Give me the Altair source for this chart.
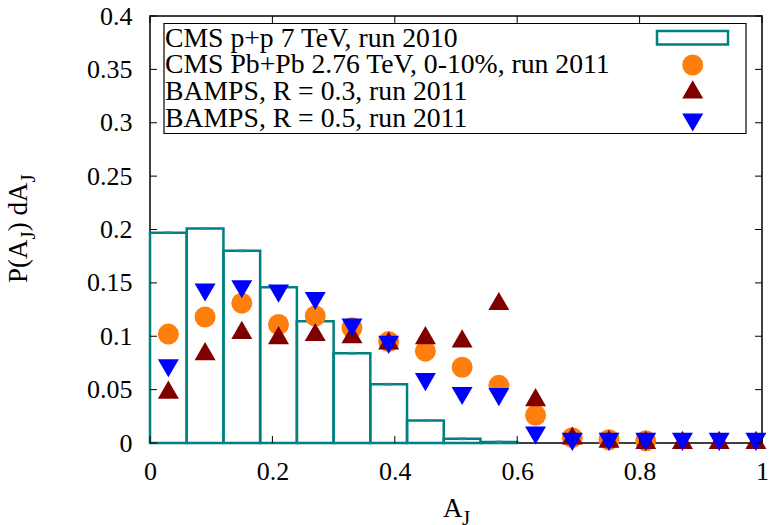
import altair as alt
import pandas as pd

# ---------------- data ----------------
bin_lo = [0.00, 0.06, 0.12, 0.18, 0.24, 0.30, 0.36, 0.42, 0.48, 0.54]
bin_hi = [0.06, 0.12, 0.18, 0.24, 0.30, 0.36, 0.42, 0.48, 0.54, 0.60]
bin_mid = [0.03, 0.09, 0.15, 0.21, 0.27, 0.33, 0.39, 0.45, 0.51, 0.57]
pp_hist = [0.197, 0.201, 0.180, 0.146, 0.114, 0.084, 0.055, 0.021, 0.004, 0.001]

x_pts = [0.03, 0.09, 0.15, 0.21, 0.27, 0.33, 0.39, 0.45, 0.51, 0.57,
         0.63, 0.69, 0.75, 0.81, 0.87, 0.93, 0.99]
cms_pbpb = [0.102, 0.118, 0.131, 0.111, 0.119, 0.108, 0.095, 0.086, 0.071,
            0.054, 0.026, 0.005, 0.003, 0.002]
bamps_r03 = [0.050, 0.086, 0.106, 0.101, 0.104, 0.102, 0.096, 0.101, 0.098,
             0.133, 0.043, 0.007, 0.004, 0.003, 0.003, 0.003, 0.003]
bamps_r05 = [0.070, 0.141, 0.144, 0.140, 0.133, 0.108, 0.092, 0.057, 0.044,
             0.043, 0.007, 0.001, 0.001, 0.001, 0.001, 0.001, 0.001]

legend_labels = ["CMS p+p 7 TeV, run 2010",
                 "CMS Pb+Pb 2.76 TeV, 0-10%, run 2011",
                 "BAMPS, R = 0.3, run 2011",
                 "BAMPS, R = 0.5, run 2011"]

x_ticks = [0, 0.2, 0.4, 0.6, 0.8, 1.0]
y_ticks = [0, 0.05, 0.1, 0.15, 0.2, 0.25, 0.3, 0.35, 0.4]

# ---------------- styling ----------------
W, H = 612, 427
FONT = "Liberation Serif"
TEAL = "#008080"
ORANGE = "#ff7f0e"
DRED = "#800000"
BLUE = "#0000ff"
MSIZE = 441

hist_df = pd.DataFrame({"lo": bin_lo, "hi": bin_hi, "mid": bin_mid, "v": pp_hist})
pb_df = pd.DataFrame({"x": x_pts[:len(cms_pbpb)], "v": cms_pbpb})
r3_df = pd.DataFrame({"x": x_pts, "v": bamps_r03})
r5_df = pd.DataFrame({"x": x_pts, "v": bamps_r05})
xt_df = pd.DataFrame({"t": x_ticks})
yt_df = pd.DataFrame({"t": y_ticks})
one = pd.DataFrame({"a": [0]})

xscale = alt.Scale(domain=[0, 1], nice=False, zero=False)
yscale = alt.Scale(domain=[0, 0.4], nice=False, zero=False)

xaxis = alt.Axis(values=x_ticks, format="~g", ticks=False, domain=False, grid=False,
                 labelFont=FONT, labelFontSize=26, labelColor="black",
                 labelPadding=15, title="", labelFlush=False)
yaxis = alt.Axis(values=y_ticks, format="~g", ticks=False, domain=False, grid=False,
                 labelFont=FONT, labelFontSize=26, labelColor="black",
                 labelPadding=18, title="", labelFlush=False)

hist = alt.Chart(hist_df).mark_bar(fill=TEAL, fillOpacity=0, stroke=TEAL,
                                   strokeWidth=2.5).encode(
    x=alt.X("lo:Q", scale=xscale, axis=xaxis),
    x2="hi:Q",
    y=alt.Y("v:Q", scale=yscale, axis=yaxis),
    y2=alt.datum(0),
)
# tiny error-bar caps at the bin centres
herr = alt.Chart(hist_df).mark_tick(orient="horizontal", size=7, thickness=3,
                                    color="#2a9090").encode(
    x=alt.X("mid:Q", scale=xscale), y=alt.Y("v:Q", scale=yscale))

pb = alt.Chart(pb_df).mark_point(shape="circle", filled=True, size=MSIZE,
                                 color=ORANGE, opacity=1).encode(
    x=alt.X("x:Q", scale=xscale), y=alt.Y("v:Q", scale=yscale))
r3 = alt.Chart(r3_df).mark_point(shape="triangle-up", filled=True, size=MSIZE,
                                 color=DRED, opacity=1).encode(
    x=alt.X("x:Q", scale=xscale), y=alt.Y("v:Q", scale=yscale))
r5 = alt.Chart(r5_df).mark_point(shape="triangle-down", filled=True, size=MSIZE,
                                 color=BLUE, opacity=1).encode(
    x=alt.X("x:Q", scale=xscale), y=alt.Y("v:Q", scale=yscale))

# inward ticks (gnuplot style) on all four sides
tb = alt.Chart(xt_df).mark_rule(color="black", strokeWidth=1).encode(
    x=alt.X("t:Q", scale=xscale), y=alt.value(H), y2=alt.value(H - 7))
tt = alt.Chart(xt_df).mark_rule(color="black", strokeWidth=1).encode(
    x=alt.X("t:Q", scale=xscale), y=alt.value(0), y2=alt.value(7))
tl = alt.Chart(yt_df).mark_rule(color="black", strokeWidth=1).encode(
    y=alt.Y("t:Q", scale=yscale), x=alt.value(0), x2=alt.value(7))
tr = alt.Chart(yt_df).mark_rule(color="black", strokeWidth=1).encode(
    y=alt.Y("t:Q", scale=yscale), x=alt.value(W), x2=alt.value(W - 7))

# legend (manual, gnuplot-style: text left, symbol right)
box = alt.Chart(one).mark_rect(
    fill="white", fillOpacity=1, stroke="black", strokeWidth=1.2).encode(
    x=alt.value(14), x2=alt.value(596), y=alt.value(7.5), y2=alt.value(117.5))

leg_layers = [box]
row_base = [30.5, 57.0, 84.0, 110.5]
for lab, yb in zip(legend_labels, row_base):
    leg_layers.append(alt.Chart(one).mark_text(
        text=lab, font=FONT, fontSize=27.7, align="left", baseline="alphabetic",
        color="black").encode(x=alt.value(15), y=alt.value(yb)))
leg_layers.append(alt.Chart(one).mark_rect(
    fillOpacity=0, stroke=TEAL, strokeWidth=2.5).encode(
    x=alt.value(507), x2=alt.value(578), y=alt.value(15), y2=alt.value(28.5)))
leg_layers.append(alt.Chart(one).mark_point(
    shape="circle", filled=True, size=MSIZE, color=ORANGE, opacity=1).encode(
    x=alt.value(542.7), y=alt.value(49)))
leg_layers.append(alt.Chart(one).mark_point(
    shape="triangle-up", filled=True, size=MSIZE, color=DRED, opacity=1).encode(
    x=alt.value(542.7), y=alt.value(73.3)))
leg_layers.append(alt.Chart(one).mark_point(
    shape="triangle-down", filled=True, size=MSIZE, color=BLUE, opacity=1).encode(
    x=alt.value(542.7), y=alt.value(106.5)))

# axis titles with subscripts
def txt(t, x, y, size, angle=0):
    kw = dict(text=t, font=FONT, fontSize=size, align="left",
              baseline="alphabetic", color="black")
    if angle:
        kw["angle"] = angle
    return alt.Chart(one).mark_text(**kw).encode(x=alt.value(x), y=alt.value(y))

title_layers = [
    txt("A", 293, 500.5, 27),
    txt("J", 312, 509, 21),
    txt("P(A", -123, 267, 27, 270),
    txt("J", -115, 267 - 43.5, 21, 270),
    txt(") dA", -123, 267 - 43.5 - 8.2, 27, 270),
    txt("J", -115, 267 - 43.5 - 8.2 - 48.7, 21, 270),
]

chart = alt.layer(hist, herr, pb, r3, r5, tb, tt, tl, tr,
                  *leg_layers, *title_layers).properties(
    width=W, height=H,
    autosize=alt.AutoSizeParams(type="none"),
    padding={"left": 150, "top": 16, "right": 8, "bottom": 82},
    background="white",
).configure_view(stroke="black", strokeWidth=1.5)

chart.save("out.html", embed_options={"renderer": "svg", "actions": False})
